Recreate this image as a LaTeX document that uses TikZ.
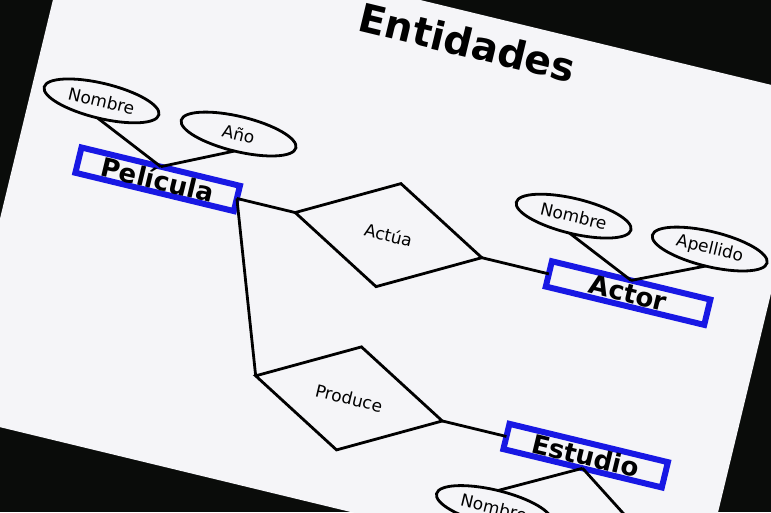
\documentclass[tikz,border=0pt]{standalone}
\usepackage{fontspec}
\setmainfont{DejaVu Sans}
\usetikzlibrary{shapes.geometric,positioning}
\definecolor{azulEntidad}{RGB}{24,24,228}
\definecolor{papel}{RGB}{245,245,248}
\definecolor{fondo}{RGB}{10,12,10}
\tikzset{entidad/.style={rectangle,draw=azulEntidad,line width=6pt,minimum width=163pt,minimum height=26pt,inner sep=0pt,outer sep=0pt,font=\fontsize{26}{28}\selectfont\bfseries}}
\tikzset{atributo/.style={ellipse,draw=black,line width=2.8pt,minimum width=118pt,minimum height=35pt,inner sep=0pt,outer sep=0pt,font=\fontsize{17}{19}\selectfont}}
\tikzset{relacion/.style={diamond,draw=black,line width=2.8pt,minimum width=192pt,minimum height=106pt,inner sep=0pt,outer sep=0pt,font=\fontsize{17}{19}\selectfont}}
\tikzset{enlace/.style={draw=black,line width=2.8pt}}
\tikzset{titulo/.style={inner sep=0pt,font=\fontsize{39.5}{44}\selectfont\bfseries}}

\begin{document}
\begin{tikzpicture}[x=1pt,y=-1pt]
\useasboundingbox (0,0) rectangle (771,512);
\clip (0,0) rectangle (771,512);
\fill [fondo] (0,0) rectangle (771,512);
\begin{scope}[rotate around={-13.6:(385.5,256)},transform shape]
	\fill [papel] (2,-1) rectangle (769,513);
	\node (titulo) [titulo] at (415,29) {Entidades};
	% entidades y relaciones
	\node (pelicula) [entidad] at (146,235) {Película};
	\node (actua) [relacion, right=60pt of pelicula] {Actúa};
	\node (actor) [entidad, right=69pt of actua] {Actor};
	\node (produce) [relacion, below=62pt of actua] {Produce};
	\node (estudio) [entidad, right=66pt of produce] {Estudio};
	% atributos
	\node (pelNombre) [atributo] at (73,172) {Nombre};
	\node (pelAnio) [atributo] at (214,172) {Año};
	\node (actNombre) [atributo] at (559,173) {Nombre};
	\node (actApellido) [atributo] at (699,173) {Apellido};
	\node (estNombre) [atributo] at (550,475) {Nombre};
	\coordinate (estOtro) at (687,457);
	\draw [enlace] (pelicula.east) -- (actua.west);
	\draw [enlace] (pelicula.east) -- (produce.west);
	\draw [enlace] (actua.east) -- (actor.west);
	\draw [enlace] (produce.east) -- (estudio.west);
	\draw [enlace] (pelNombre.south) -- (pelicula.north);
	\draw [enlace] (pelAnio.south) -- (pelicula.north);
	\draw [enlace] (actNombre.south) -- (actor.north);
	\draw [enlace] (actApellido.south) -- (actor.north);
	\draw [enlace] (estudio.south) -- (estNombre.north);
	\draw [enlace] (estudio.south) -- (estOtro);
\end{scope}
\end{tikzpicture}
\end{document}
